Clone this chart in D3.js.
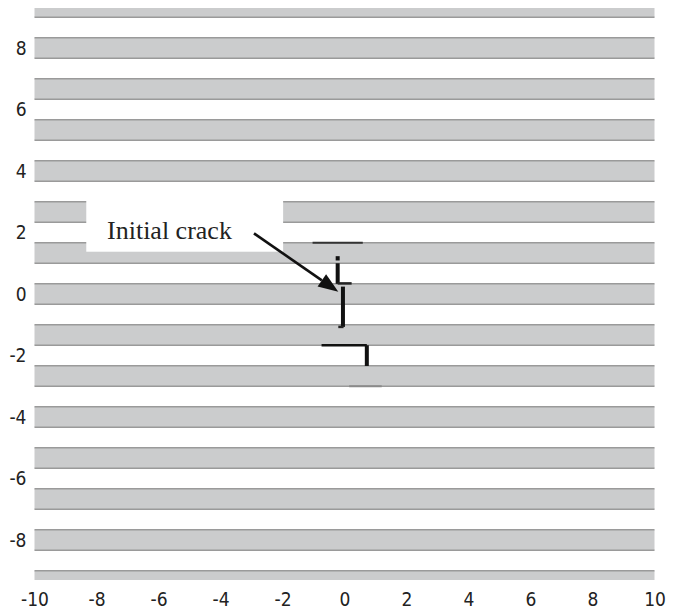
<!DOCTYPE html>
<meta charset="utf-8">
<head>
<script src="https://d3js.org/d3.v7.min.js"></script>
<style>
  body { margin: 0; background: #fff; }
  .tick text { font-family: "DejaVu Sans Condensed", "DejaVu Sans", sans-serif; font-stretch: condensed; font-size: 19px; fill: #222; }
  .layer { fill: #cbcccd; }
  .edge { stroke: #9a9a9a; stroke-width: 1.6; }
</style>
</head>
<body>
<div id="chart"></div>
<script>
// gray layers (bottom / top of each band, in plot units)
var layerLo = [-9.3, -8.333, -7, -5.667, -4.333, -3, -1.667, -0.333, 1, 2.333, 3.667, 5, 6.333, 7.667, 9];
var layerHi = [-9, -7.667, -6.333, -5, -3.667, -2.333, -1, 0.333, 1.667, 3, 4.333, 5.667, 7, 8.333, 9.3];

var xTicks = [-10, -8, -6, -4, -2, 0, 2, 4, 6, 8, 10];
var yTicks = [-8, -6, -4, -2, 0, 2, 4, 6, 8];

// crack pieces as polylines [x, y]
var crackLines = [
  [[-1.03, 1.667], [0.59, 1.667]],
  [[-0.22, 1.23], [-0.22, 1.09]],
  [[-0.22, 1.0], [-0.22, 0.33]],
  [[-0.22, 0.345], [0.23, 0.345]],
  [[-0.05, 0.24], [-0.05, -1.07]],
  [[-0.2, -1.07], [-0.03, -1.07]],
  [[-0.74, -1.667], [0.72, -1.667]],
  [[0.72, -1.667], [0.72, -2.34]],
  [[0.15, -3.0], [1.2, -3.0]]
];
var crackWidth = [2, 4, 4, 2.5, 4, 2.5, 2.5, 4, 2];
var crackColor = ['#333', '#111', '#111', '#222', '#111', '#222', '#111', '#111', '#8a8a8a'];

var labelText = 'Initial crack';
var labelAt = [-7.66, 1.78];
var labelBox = [-8.33, 1.375, -1.98, 3.1];   // x0, y0, x1, y1
var arrowFrom = [-2.92, 1.97];
var arrowTo = [-0.2, 0.075];

var width = 677, height = 609;
var svg = d3.select('#chart').append('svg')
  .attr('width', width)
  .attr('height', height);

var x = d3.scaleLinear().domain([-10, 10]).range([34.5, 654.5]);
var y = d3.scaleLinear().domain([-9.3, 9.3]).range([580, 8]);

// layers
var g = svg.append('g');
layerLo.forEach(function (lo, i) {
  var hi = layerHi[i];
  g.append('rect').attr('class', 'layer')
    .attr('x', x(-10)).attr('width', x(10) - x(-10))
    .attr('y', y(hi)).attr('height', y(lo) - y(hi));
  if (hi < 9.3) {
    g.append('line').attr('class', 'edge')
      .attr('x1', x(-10)).attr('x2', x(10))
      .attr('y1', y(hi)).attr('y2', y(hi));
  }
  if (lo > -9.3) {
    g.append('line').attr('class', 'edge')
      .attr('x1', x(-10)).attr('x2', x(10))
      .attr('y1', y(lo)).attr('y2', y(lo));
  }
});

// axes (labels only), plain hyphen for negatives
var fmt = function (d) { return String(d); };
svg.append('g')
  .attr('transform', 'translate(0,' + y(-9.3) + ')')
  .call(d3.axisBottom(x).tickValues(xTicks).tickFormat(fmt).tickSize(0).tickPadding(13));
svg.append('g')
  .attr('transform', 'translate(' + x(-10) + ',0)')
  .call(d3.axisLeft(y).tickValues(yTicks).tickFormat(fmt).tickSize(0).tickPadding(8));
svg.selectAll('.domain').remove();

// label box + text
svg.append('rect')
  .attr('x', x(labelBox[0])).attr('y', y(labelBox[3]))
  .attr('width', x(labelBox[2]) - x(labelBox[0]))
  .attr('height', y(labelBox[1]) - y(labelBox[3]))
  .attr('fill', '#fff');
svg.append('text')
  .attr('x', x(labelAt[0])).attr('y', y(labelAt[1]))
  .attr('font-family', '"Liberation Serif", "Times New Roman", serif')
  .attr('font-size', 26)
  .attr('fill', '#222')
  .text(labelText);

// crack
var line = d3.line().x(function (d) { return x(d[0]); }).y(function (d) { return y(d[1]); });
svg.selectAll('.crack').data(crackLines).enter().append('path')
  .attr('class', 'crack')
  .attr('d', line)
  .attr('fill', 'none')
  .attr('stroke', function (d, i) { return crackColor[i]; })
  .attr('stroke-width', function (d, i) { return crackWidth[i]; });

// arrow
var x1 = x(arrowFrom[0]), y1 = y(arrowFrom[1]);
var x2 = x(arrowTo[0]), y2 = y(arrowTo[1]);
var ang = Math.atan2(y2 - y1, x2 - x1);
var headLen = 20, headHalf = 7.5;
var bx = x2 - headLen * Math.cos(ang), by = y2 - headLen * Math.sin(ang);
svg.append('line')
  .attr('x1', x1).attr('y1', y1).attr('x2', bx).attr('y2', by)
  .attr('stroke', '#111').attr('stroke-width', 2.6);
svg.append('polygon')
  .attr('points', [
    [x2, y2],
    [bx + headHalf * Math.sin(ang), by - headHalf * Math.cos(ang)],
    [bx - headHalf * Math.sin(ang), by + headHalf * Math.cos(ang)]
  ].map(function (p) { return p.join(','); }).join(' '))
  .attr('fill', '#111');
</script>
</body>
